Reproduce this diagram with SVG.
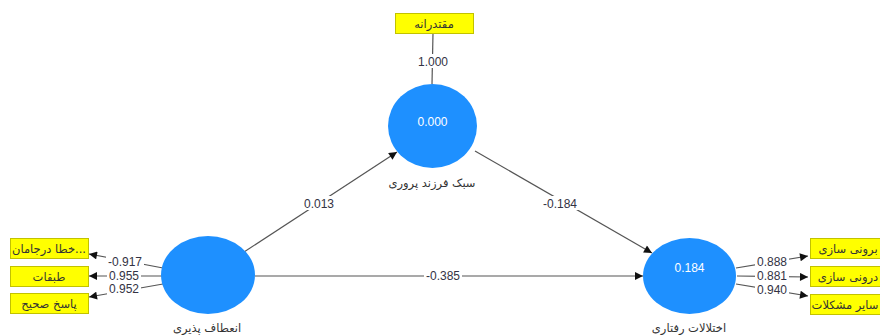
<svg xmlns="http://www.w3.org/2000/svg" width="880" height="335" viewBox="0 0 880 335">
<style>
.bg{fill:#ffffff}
.lv{fill:#1e90ff}
.ind{fill:#ffff00;stroke:#c2c200;stroke-width:1}
.ln{stroke:#555555;stroke-width:1.2;fill:none}
.ea{marker-end:url(#ah)}
.num{font-family:"Liberation Sans","DejaVu Sans",sans-serif;font-size:12px;fill:#333344;text-anchor:middle}
.val{font-family:"Liberation Sans","DejaVu Sans",sans-serif;font-size:12px;fill:#ffffff;text-anchor:middle}
.fa{font-family:"DejaVu Sans","Noto Sans",sans-serif;font-size:11.5px;fill:#333333;text-anchor:middle}
.lb{fill:#ffffff}
</style>
<defs>
<marker id="ah" viewBox="0 0 10 10" refX="10" refY="5" markerWidth="10" markerHeight="8" markerUnits="userSpaceOnUse" orient="auto">
<path d="M0,0 L10,5 L0,10 z" fill="#111111"/>
</marker>
</defs>
<rect class="bg" x="0" y="0" width="880" height="335"/>
<g id="connectors">
<line class="ln" x1="433" y1="33" x2="432" y2="84"/>
<line class="ln ea" x1="244" y1="252" x2="397" y2="152"/>
<line class="ln ea" x1="475" y1="151" x2="652" y2="253"/>
<line class="ln ea" x1="255" y1="276" x2="643" y2="276"/>
<line class="ln ea" x1="163" y1="268" x2="89" y2="254"/>
<line class="ln ea" x1="162" y1="276" x2="89" y2="276"/>
<line class="ln ea" x1="163" y1="284" x2="89" y2="297"/>
<line class="ln ea" x1="736" y1="268" x2="808" y2="256"/>
<line class="ln ea" x1="737" y1="276" x2="808" y2="277"/>
<line class="ln ea" x1="736" y1="284" x2="808" y2="296"/>
<rect class="lb" x="416" y="54" width="34" height="14"/>
<text class="num" x="433" y="65.5">1.000</text>
<rect class="lb" x="302" y="196" width="34" height="14"/>
<text class="num" x="319" y="207.5">0.013</text>
<rect class="lb" x="541" y="196" width="38" height="14"/>
<text class="num" x="560" y="207.5">-0.184</text>
<rect class="lb" x="424" y="269" width="38" height="14"/>
<text class="num" x="443" y="280">-0.385</text>
<rect class="lb" x="106" y="256" width="38" height="12"/>
<text class="num" x="125" y="266">-0.917</text>
<rect class="lb" x="107" y="270" width="34" height="12"/>
<text class="num" x="124" y="280">0.955</text>
<rect class="lb" x="107" y="283" width="34" height="12"/>
<text class="num" x="124" y="293">0.952</text>
<rect class="lb" x="755" y="256" width="34" height="12"/>
<text class="num" x="772" y="266">0.888</text>
<rect class="lb" x="755" y="270" width="34" height="12"/>
<text class="num" x="772" y="280">0.881</text>
<rect class="lb" x="755" y="284" width="34" height="12"/>
<text class="num" x="772" y="294">0.940</text>
</g>
<g id="node-sabk">
<ellipse class="lv" cx="432.5" cy="126" rx="44.5" ry="42"/>
<text class="val" x="432.5" y="126">0.000</text>
<text class="fa" x="432" y="187">سبک فرزند پروری</text>
</g>
<g id="node-enetaf">
<ellipse class="lv" cx="208" cy="275" rx="47" ry="39"/>
<text class="fa" x="207" y="332">انعطاف پذیری</text>
</g>
<g id="node-ekhtelal">
<ellipse class="lv" cx="689.5" cy="276" rx="46.5" ry="38"/>
<text class="val" x="689.5" y="272">0.184</text>
<text class="fa" x="689" y="332">اختلالات رفتاری</text>
</g>
<g id="ind-moghtaderane">
<rect class="ind" x="395.5" y="13.5" width="78" height="20"/>
<text class="fa" x="434" y="27.5">مقتدرانه</text>
</g>
<g id="ind-khata">
<rect class="ind" x="10.5" y="238.5" width="78" height="20"/>
<text class="fa" x="49" y="252.5">خطا درجامان...</text>
</g>
<g id="ind-tabaghat">
<rect class="ind" x="10.5" y="266.5" width="78" height="20"/>
<text class="fa" x="49" y="280.5">طبقات</text>
</g>
<g id="ind-pasokh">
<rect class="ind" x="10.5" y="293.5" width="78" height="20"/>
<text class="fa" x="49" y="307.5">پاسخ صحیح</text>
</g>
<g id="ind-boruni">
<rect class="ind" x="810.5" y="238.5" width="80" height="20"/>
<text class="fa" x="848" y="252.5">برونی سازی</text>
</g>
<g id="ind-daruni">
<rect class="ind" x="810.5" y="266.5" width="80" height="20"/>
<text class="fa" x="848" y="280.5">درونی سازی</text>
</g>
<g id="ind-sayer">
<rect class="ind" x="810.5" y="294.5" width="80" height="20"/>
<text class="fa" x="845" y="308.5">سایر مشکلات</text>
</g>
</svg>
